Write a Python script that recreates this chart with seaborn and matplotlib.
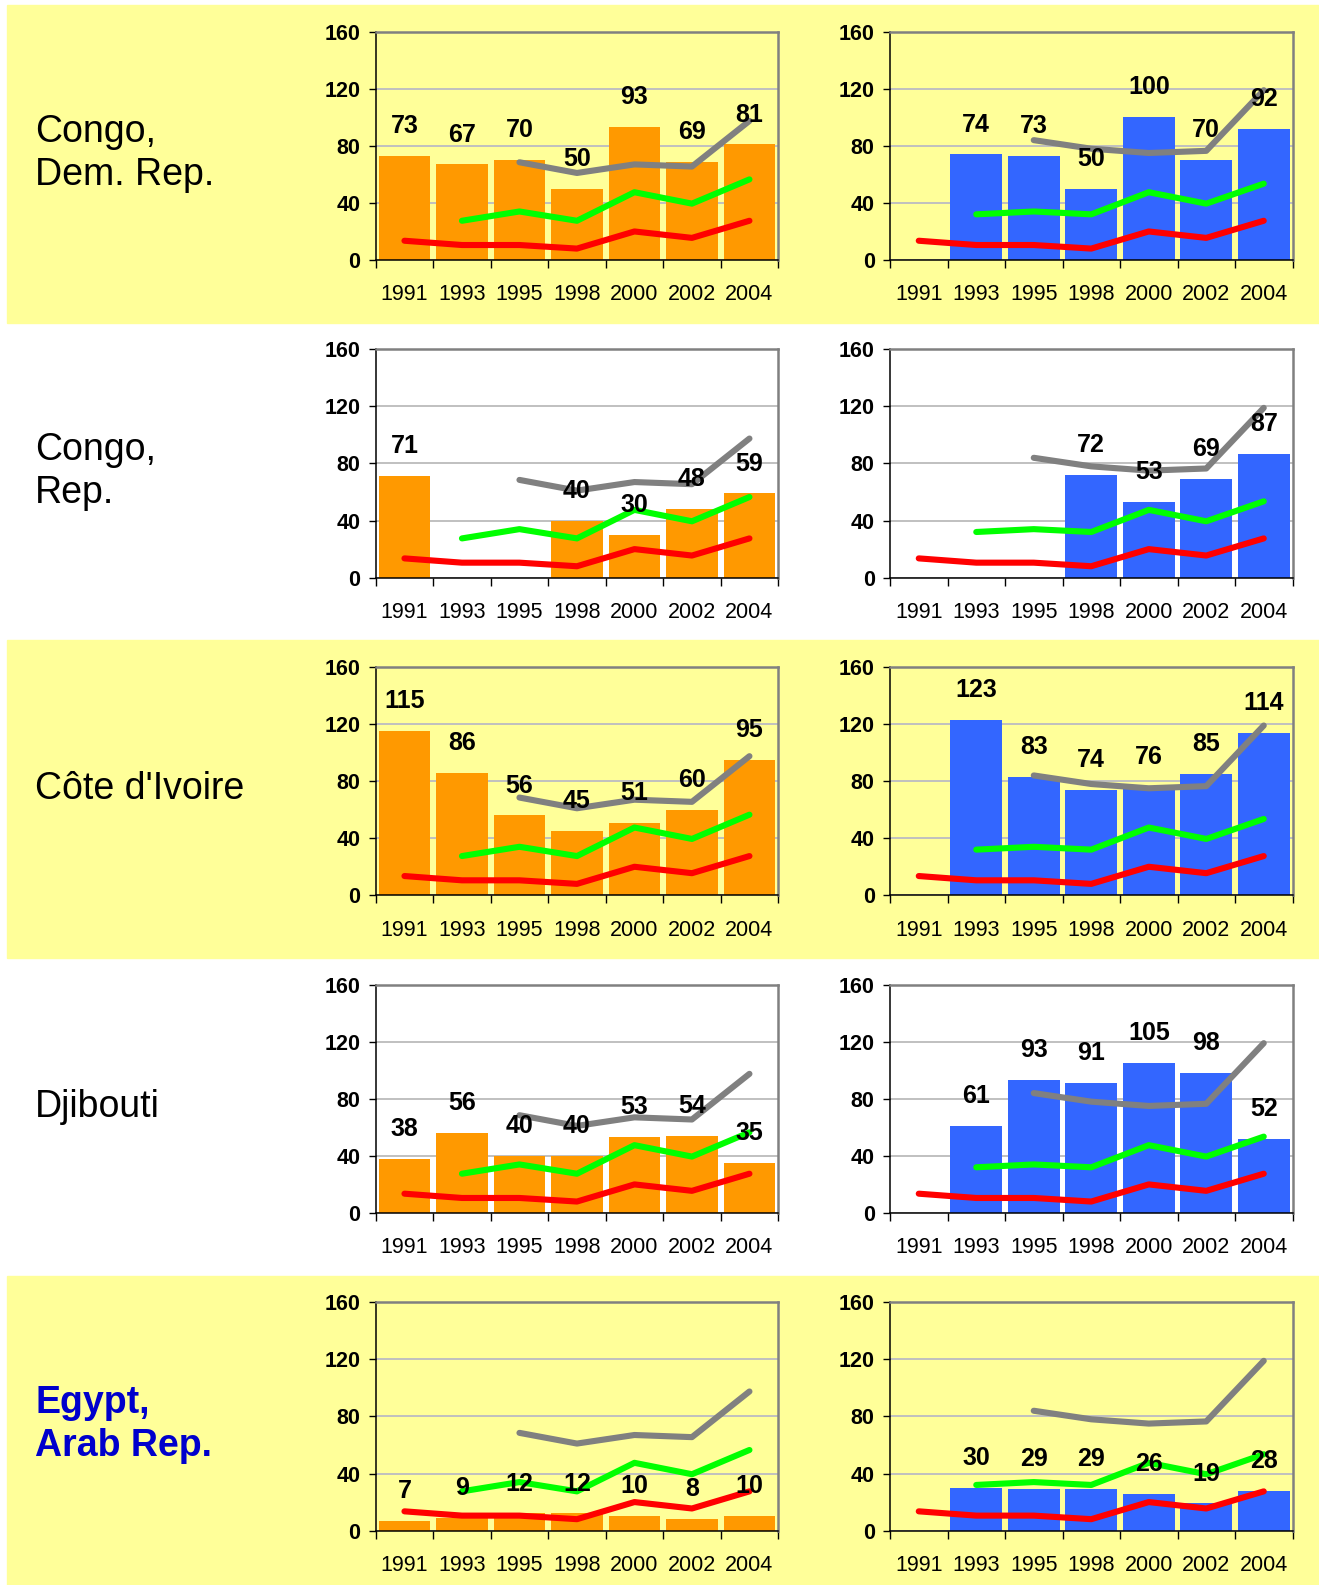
import matplotlib
matplotlib.use("Agg")
import matplotlib.pyplot as plt
import numpy as np
import seaborn as sns
from matplotlib.patches import Rectangle

plt.rcParams["font.family"] = ["Liberation Sans", "DejaVu Sans"]

YEARS = ["1991", "1993", "1995", "1998", "2000", "2002", "2004"]
COUNTRIES = ["Congo,\nDem. Rep.", "Congo,\nRep.", "Côte d'Ivoire", "Djibouti", "Egypt,\nArab Rep."]

nan = np.nan
# bar values, left (orange) and right (blue) panel per country
LEFT_BARS = [
    [73, 67, 70, 50, 93, 69, 81],
    [71, nan, nan, 40, 30, 48, 59],
    [115, 86, 56, 45, 51, 60, 95],
    [38, 56, 40, 40, 53, 54, 35],
    [7, 9, 12, 12, 10, 8, 10],
]
RIGHT_BARS = [
    [nan, 74, 73, 50, 100, 70, 92],
    [nan, nan, nan, 72, 53, 69, 87],
    [nan, 123, 83, 74, 76, 85, 114],
    [nan, 61, 93, 91, 105, 98, 52],
    [nan, 30, 29, 29, 26, 19, 28],
]

# reference lines, same in every row
LEFT_GRAY = [nan, nan, 68.5, 61, 67, 65.5, 97.5]
LEFT_GREEN = [nan, 27.5, 34, 27.5, 47.5, 39.5, 56.5]
RIGHT_GRAY = [nan, nan, 84, 78, 75, 76.5, 119]
RIGHT_GREEN = [nan, 32, 34, 32, 47.5, 39.5, 53.5]
RED = [13.5, 10.5, 10.5, 8, 20, 15.5, 27.5]

YELLOW = "#FFFF99"
ORANGE = "#FF9900"
BLUE = "#3366FF"

W, H = 1319, 1585
AX_W, AX_H = 402.5, 228.3
PITCH = 317.65


def draw_panel(ax, bars, gray, green, bar_color, face):
    ax.set_facecolor(face)
    sns.barplot(x=YEARS, y=bars, order=YEARS, color=bar_color, saturation=1,
                width=0.9, linewidth=0, ax=ax, zorder=2)
    pos = np.arange(len(YEARS))
    for vals, col in [(gray, "#808080"), (green, "#00FF00"), (RED, "#FF0000")]:
        sns.lineplot(x=pos, y=vals, color=col, lw=4.4, ax=ax, zorder=3,
                     solid_capstyle="round", solid_joinstyle="round")
    for i, v in enumerate(bars):
        if not np.isnan(v):
            ax.annotate(f"{v:g}", (i, v), xytext=(0, 21.5), textcoords="offset points",
                        ha="center", va="center", fontsize=18, fontweight="bold", zorder=4)

    ax.set_ylim(0, 160)
    ax.set_xlim(-0.5, 6.5)
    ax.set_yticks([0, 40, 80, 120, 160])
    ax.set_yticklabels(["0", "40", "80", "120", "160"], fontsize=15.5, fontweight="bold")
    ax.set_xticks(np.arange(-0.5, 7, 1))
    ax.set_xticklabels([])
    ax.set_xticks(pos, minor=True)
    ax.set_xticklabels(YEARS, minor=True, fontsize=15.5)
    ax.tick_params(axis="x", which="major", direction="out", length=6, width=1, color="black")
    ax.tick_params(axis="x", which="minor", length=0, pad=17.5)
    ax.tick_params(axis="y", direction="out", length=5, width=1, pad=6)
    ax.set_xlabel("")
    ax.set_ylabel("")
    ax.set_axisbelow(True)
    ax.yaxis.grid(True, color="#C0C0C0", lw=1.4)
    ax.xaxis.grid(False)
    for side in ["left", "bottom"]:
        ax.spines[side].set_color("black")
        ax.spines[side].set_linewidth(1.1)
    for side in ["top", "right"]:
        ax.spines[side].set_color("#808080")
        ax.spines[side].set_linewidth(1.8)
        ax.spines[side].set_visible(True)
    legend = ax.get_legend()
    if legend is not None:
        legend.remove()


fig = plt.figure(figsize=(W / 100, H / 100), dpi=100)
fig.patch.set_facecolor("white")

for r, name in enumerate(COUNTRIES):
    yellow_row = r % 2 == 0
    face = YELLOW if yellow_row else "white"
    if yellow_row:
        top = 5 + r * PITCH
        fig.patches.append(Rectangle((7 / W, 1 - (top + 317.7) / H), 1 - 7 / W, 317.7 / H,
                                     transform=fig.transFigure, color=YELLOW, zorder=-5))
    ax_top = 31.7 + r * PITCH
    bottom = 1 - (ax_top + AX_H) / H
    axl = fig.add_axes([375.7 / W, bottom, AX_W / W, AX_H / H])
    axr = fig.add_axes([890 / W, bottom, AX_W / W, AX_H / H])
    draw_panel(axl, LEFT_BARS[r], LEFT_GRAY, LEFT_GREEN, ORANGE, face)
    draw_panel(axr, RIGHT_BARS[r], RIGHT_GRAY, RIGHT_GREEN, BLUE, face)

    is_egypt = name.startswith("Egypt")
    fig.text(35 / W, 1 - (ax_top + AX_H / 2 + 8) / H, name, ha="left", va="center",
             fontsize=27, linespacing=1.25,
             color="#0000CC" if is_egypt else "black",
             fontweight="bold" if is_egypt else "normal")

fig.savefig("out.png", dpi=100)
